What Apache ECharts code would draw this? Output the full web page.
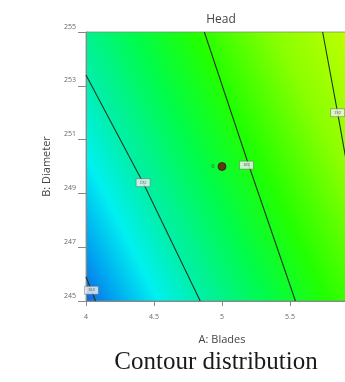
<!DOCTYPE html>
<html>
<head>
<meta charset="utf-8">
<style>
  html, body { margin: 0; padding: 0; background: #fff; }
  #chart { width: 345px; height: 382px; }
</style>
<script src="https://cdn.jsdelivr.net/npm/echarts@6/dist/echarts.min.js"></script>
</head>
<body>
<div id="chart"></div>
<script>
// contour lines, [blades, diameter]
const contour1 = [[4.0, 245.9], [4.07, 245.0]]
const contour2 = [[4.0, 253.4], [4.42, 249.4], [4.84, 245.0]]
const contour3 = [[4.87, 255.0], [5.2, 250.0], [5.54, 245.0]]
const contour4 = [[5.74, 255.0], [5.85, 252.0], [5.91, 250.3]]
const labelPoints = [[4.04, 245.4], [4.42, 249.4], [5.18, 250.05], [5.85, 252.0]]
const labelTexts = ['163', '172', '182', '192']
const centerPoint = [[5, 250]]
const centerRuns = '6'
const xTicks = [4, 4.5, 5, 5.5, 6]
const yTicks = [245, 247, 249, 251, 253, 255]

let myChart = echarts.init(document.getElementById('chart'))

let surface = new echarts.graphic.LinearGradient(0, 1, 1.19, 0.40, [
  { offset: 0, color: '#1464e0' },
  { offset: 0.07, color: '#00a0f0' },
  { offset: 0.18, color: '#00f0f0' },
  { offset: 0.3, color: '#00f0a0' },
  { offset: 0.45, color: '#00fc4a' },
  { offset: 0.6, color: '#22ff00' },
  { offset: 0.8, color: '#8cff00' },
  { offset: 1, color: '#c4ff00' }
])

function contour(data) {
  return {
    type: 'line',
    data: data,
    symbol: 'none',
    silent: true,
    z: 3,
    lineStyle: { color: '#1c3a20', width: 1.1 }
  }
}

myChart.setOption({
  animation: false,
  grid: {
    left: 86,
    top: 32,
    width: 272,
    height: 269,
    outerBoundsMode: 'none',
    show: true,
    backgroundColor: surface,
    borderColor: '#7c8c7c',
    borderWidth: 0.8
  },
  xAxis: {
    type: 'value',
    min: 4,
    max: 6,
    name: 'A: Blades',
    nameLocation: 'middle',
    nameGap: 33,
    nameTextStyle: { fontSize: 11, color: '#444', fontFamily: 'Open Sans' },
    axisLine: { show: true, lineStyle: { color: '#888' } },
    axisTick: { show: true, customValues: xTicks, length: 5, lineStyle: { color: '#888' } },
    axisLabel: {
      customValues: xTicks,
      fontSize: 7,
      color: '#666',
      margin: 12,
      fontFamily: 'Open Sans',
      formatter: v => String(v)
    },
    splitLine: { show: false }
  },
  yAxis: {
    type: 'value',
    min: 245,
    max: 255,
    name: 'B: Diameter',
    nameLocation: 'middle',
    nameGap: 34,
    nameTextStyle: { fontSize: 11, color: '#444', fontFamily: 'Open Sans' },
    axisLine: { show: true, lineStyle: { color: '#888' } },
    axisTick: { show: true, customValues: yTicks, length: 8, lineStyle: { color: '#888' } },
    axisLabel: {
      customValues: yTicks,
      fontSize: 7,
      color: '#666',
      margin: 10,
      verticalAlign: 'bottom',
      padding: [0, 0, 2, 0],
      fontFamily: 'Open Sans'
    },
    splitLine: { show: false }
  },
  graphic: [
    {
      type: 'text',
      x: 221,
      y: 20,
      style: {
        text: 'Head',
        fill: '#444',
        font: '12px "Open Sans"',
        textAlign: 'center',
        textVerticalAlign: 'middle'
      }
    },
    {
      type: 'text',
      x: 216,
      y: 362,
      style: {
        text: 'Contour distribution',
        fill: '#1a1a1a',
        font: '25px "Liberation Serif"',
        textAlign: 'center',
        textVerticalAlign: 'middle'
      }
    }
  ],
  series: [
    contour(contour1),
    contour(contour2),
    contour(contour3),
    contour(contour4),
    {
      type: 'scatter',
      silent: true,
      z: 4,
      symbol: 'rect',
      symbolSize: [14, 8],
      data: labelPoints.map((p, i) => ({ value: p, name: labelTexts[i] })),
      itemStyle: { color: '#f2f2f2', borderColor: '#666', borderWidth: 0.6 },
      label: {
        show: true,
        position: 'inside',
        formatter: '{b}',
        fontSize: 4,
        color: '#444'
      }
    },
    {
      type: 'scatter',
      silent: true,
      z: 5,
      symbolSize: 8,
      data: centerPoint,
      itemStyle: { color: '#760606', borderColor: '#300000', borderWidth: 0.8 },
      label: {
        show: true,
        position: 'left',
        distance: 3,
        formatter: centerRuns,
        fontSize: 6,
        color: '#2d5a2d'
      }
    }
  ]
})
</script>
</body>
</html>
